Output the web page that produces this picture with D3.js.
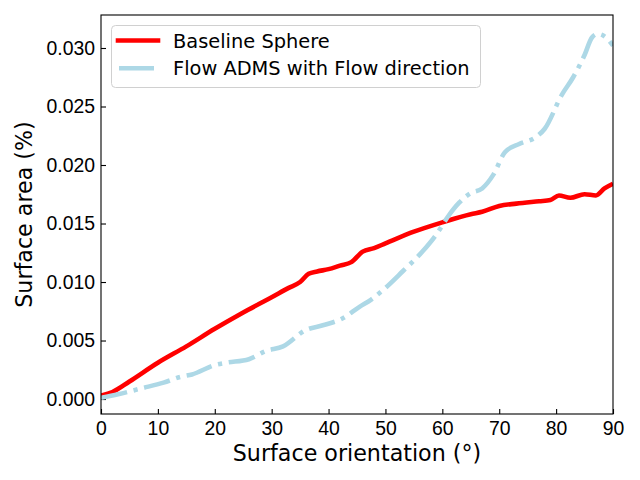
<!DOCTYPE html>
<html>
<head>
<meta charset="utf-8">
<script src="https://cdn.jsdelivr.net/npm/d3@7"></script>
<style>
  body { margin: 0; background: #fff; }
  svg { font-family: "DejaVu Sans", sans-serif; }
</style>
</head>
<body>
<script>
// curve readings (orientation in degrees, surface area in %)
const baseX = [0, 2, 5, 10, 15, 20, 25, 30, 33, 35, 36.5, 38, 40, 42, 44, 46, 48, 50, 55, 60, 65, 67, 70, 73, 77, 79, 80.5, 82.5, 85, 87, 88.5, 90]
const baseY = [0.0003, 0.0006, 0.0015, 0.0031, 0.0045, 0.0060, 0.0074, 0.0087, 0.0095, 0.0100, 0.0107, 0.0109, 0.0111, 0.0114, 0.0117, 0.0126, 0.0129, 0.0133, 0.0143, 0.0151, 0.0158, 0.0160, 0.0165, 0.0167, 0.0169, 0.0170, 0.0174, 0.0172, 0.0175, 0.0174, 0.0180, 0.0184]

const flowX = [0, 3, 7, 11, 14, 16, 20, 22, 26, 29, 32, 36, 39, 42.5, 45.5, 47.5, 50, 53, 56.5, 59, 61, 63, 65, 67, 69, 71, 73.5, 76.5, 78, 81, 83, 85, 86.3, 87.3, 88.5, 90]
const flowY = [0.0001, 0.0004, 0.0009, 0.0014, 0.0019, 0.0021, 0.0029, 0.0031, 0.0034, 0.0041, 0.0045, 0.0059, 0.0063, 0.0069, 0.0079, 0.0085, 0.0095, 0.0109, 0.0126, 0.0141, 0.0156, 0.0168, 0.0176, 0.0180, 0.0192, 0.0211, 0.0218, 0.0224, 0.0231, 0.0260, 0.0275, 0.0294, 0.0309, 0.0312, 0.0310, 0.0302]

const seriesNames = ["Baseline Sphere", "Flow ADMS with Flow direction"]
const xTicks = [0, 10, 20, 30, 40, 50, 60, 70, 80, 90]
const yTicks = [0, 0.005, 0.010, 0.015, 0.020, 0.025, 0.030]

const box = {left: 101, right: 613, top: 15, bottom: 414}

const svg = d3.select('body').append('svg')
    .attr('width', 640)
    .attr('height', 480)

const xScale = d3.scaleLinear()
    .domain([0, 90])
    .range([box.left, box.right])

const yScale = d3.scaleLinear()
    .domain([-0.00128, 0.03282])
    .range([box.bottom, box.top])

// x axis, ticks pointing inwards
const xAxis = svg.append('g')
    .attr('transform', 'translate(0,' + box.bottom + ')')
    .call(d3.axisBottom(xScale).tickValues(xTicks).tickSizeInner(-5).tickSizeOuter(0).tickPadding(7))
xAxis.select('.domain').remove()
xAxis.selectAll('line').attr('stroke-width', 1.1)
xAxis.selectAll('text').style('font-size', '19.4px').attr('fill', '#000')

// y axis
const yAxis = svg.append('g')
    .attr('transform', 'translate(' + box.left + ',0)')
    .call(d3.axisLeft(yScale).tickValues(yTicks).tickFormat(d3.format('.3f')).tickSizeInner(-5).tickSizeOuter(0).tickPadding(6))
yAxis.select('.domain').remove()
yAxis.selectAll('line').attr('stroke-width', 1.1)
yAxis.selectAll('text').style('font-size', '19.4px').attr('fill', '#000')

const line = d3.line()
    .x(d => xScale(d[0]))
    .y(d => yScale(d[1]))
    .curve(d3.curveMonotoneX)

svg.append('clipPath').attr('id', 'plotclip')
    .append('rect')
    .attr('x', box.left).attr('y', box.top)
    .attr('width', box.right - box.left).attr('height', box.bottom - box.top)

svg.append('path')
    .datum(d3.zip(baseX, baseY))
    .attr('clip-path', 'url(#plotclip)')
    .attr('fill', 'none')
    .attr('stroke', 'red')
    .attr('stroke-width', 4.6)
    .attr('stroke-linejoin', 'round')
    .attr('d', line)

svg.append('path')
    .datum(d3.zip(flowX, flowY))
    .attr('clip-path', 'url(#plotclip)')
    .attr('fill', 'none')
    .attr('stroke', 'lightblue')
    .attr('stroke-width', 4.6)
    .attr('stroke-dasharray', '26.7,6.7,4.2,6.7')
    .attr('stroke-linejoin', 'round')
    .attr('d', line)

// frame
svg.append('rect')
    .attr('x', box.left).attr('y', box.top)
    .attr('width', box.right - box.left).attr('height', box.bottom - box.top)
    .attr('fill', 'none')
    .attr('stroke', '#000')
    .attr('stroke-width', 1.1)

// legend
const legend = svg.append('g')
legend.append('rect')
    .attr('x', 111.5).attr('y', 25.5)
    .attr('width', 369).attr('height', 62)
    .attr('rx', 4)
    .attr('fill', 'rgba(255,255,255,0.8)')
    .attr('stroke', '#d0d0d0')
    .attr('stroke-width', 1)

legend.append('line')
    .attr('x1', 118).attr('x2', 158)
    .attr('y1', 40.5).attr('y2', 40.5)
    .attr('stroke', 'red')
    .attr('stroke-width', 4.6)
    .attr('stroke-linecap', 'square')
legend.append('line')
    .attr('x1', 119).attr('x2', 154)
    .attr('y1', 68.3).attr('y2', 68.3)
    .attr('stroke', 'lightblue')
    .attr('stroke-width', 4.6)

legend.selectAll('.legtext').data(seriesNames)
    .enter()
    .append('text')
    .attr('class', 'legtext')
    .attr('x', 173)
    .attr('y', (d, i) => 47.5 + i * 27.8)
    .style('font-size', '19.4px')
    .text(d => d)

// axis labels
svg.append('text')
    .attr('x', (box.left + box.right) / 2)
    .attr('y', 461)
    .attr('text-anchor', 'middle')
    .style('font-size', '22.2px')
    .text('Surface orientation (°)')

svg.append('text')
    .attr('transform', 'translate(32,' + ((box.top + box.bottom) / 2) + ')rotate(-90)')
    .attr('text-anchor', 'middle')
    .style('font-size', '22.2px')
    .text('Surface area (%)')
</script>
</body>
</html>
